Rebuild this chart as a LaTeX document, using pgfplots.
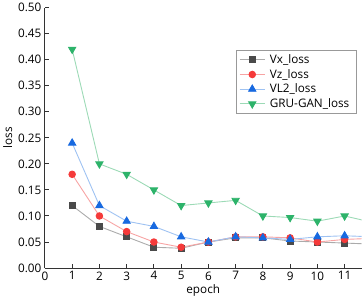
\documentclass[border=0pt]{standalone}
\usepackage{fontspec}
\setmainfont{Open Sans}
\usepackage{pgfplots}
\pgfplotsset{compat=1.18}
\definecolor{axc}{HTML}{333333}
\definecolor{mgray}{HTML}{4A4A4A}\definecolor{lgray}{HTML}{ABABAB}
\definecolor{mred}{HTML}{F53A3A}\definecolor{lred}{HTML}{F7A3A3}
\definecolor{mblue}{HTML}{1769E0}\definecolor{lblue}{HTML}{9EC2F2}
\definecolor{mgreen}{HTML}{2DB36A}\definecolor{lgreen}{HTML}{9CDAB6}
\begin{document}
\begin{tikzpicture}
\begin{axis}[
  scale only axis, width=318.5pt, height=262pt,
  xmin=0, xmax=11.62, ymin=0, ymax=0.5,
  axis lines=left, axis line style={-, axc, line width=1pt},
  tick align=inside, major tick length=4pt, tick style={axc, line width=1pt},
  xtick={0,1,...,11}, ytick={0,0.05,...,0.5},
  yticklabel style={/pgf/number format/.cd, fixed, fixed zerofill, precision=2},
  /pgf/number format/assume math mode=true,
  ticklabel style={font=\fontsize{11.8}{13}\selectfont, text=black},
  xlabel={epoch}, ylabel={loss},
  label style={font=\fontsize{11.8}{13}\selectfont},
  xlabel style={yshift=2pt},
  ylabel style={yshift=-1pt},
  legend style={at={(0.986,0.836)}, anchor=north east, draw=gray!80, line width=0.6pt,
    font=\fontsize{11.8}{12}\selectfont, row sep=0.3pt, inner xsep=3pt, inner ysep=2pt,
    nodes={inner xsep=4.5pt},
    legend cell align=left},
  legend image code/.code={\draw[mark repeat=2,mark phase=2] plot coordinates {(0cm,0cm)(0.45cm,0cm)(0.9cm,0cm)};},
  clip=true, clip bounding box=upper bound,
]
\addplot[lgray, line width=0.9pt, mark=square*, mark size=3pt, mark options={draw=mgray, fill=mgray}]
 coordinates {(1,0.12)(2,0.08)(3,0.06)(4,0.04)(5,0.038)(6,0.05)(7,0.058)(8,0.058)(9,0.052)(10,0.05)(11,0.048)(12,0.046)};
\addplot[lred, line width=0.9pt, mark=*, mark size=3.3pt, mark options={draw=mred, fill=mred}]
 coordinates {(1,0.18)(2,0.10)(3,0.07)(4,0.05)(5,0.04)(6,0.05)(7,0.06)(8,0.06)(9,0.058)(10,0.05)(11,0.055)(12,0.057)};
\addplot[lblue, line width=0.9pt, mark=triangle*, mark size=4.2pt, mark options={draw=mblue, fill=mblue}]
 coordinates {(1,0.24)(2,0.12)(3,0.09)(4,0.08)(5,0.06)(6,0.05)(7,0.06)(8,0.058)(9,0.055)(10,0.06)(11,0.062)(12,0.06)};
\addplot[lgreen, line width=0.9pt, mark=triangle*, mark size=4.2pt, mark options={draw=mgreen, fill=mgreen, rotate=180}]
 coordinates {(1,0.42)(2,0.20)(3,0.18)(4,0.15)(5,0.12)(6,0.125)(7,0.13)(8,0.10)(9,0.097)(10,0.09)(11,0.10)(12,0.088)};
\legend{Vx\_loss, Vz\_loss, VL2\_loss, GRU-GAN\_loss}
\end{axis}
\end{tikzpicture}
\end{document}
